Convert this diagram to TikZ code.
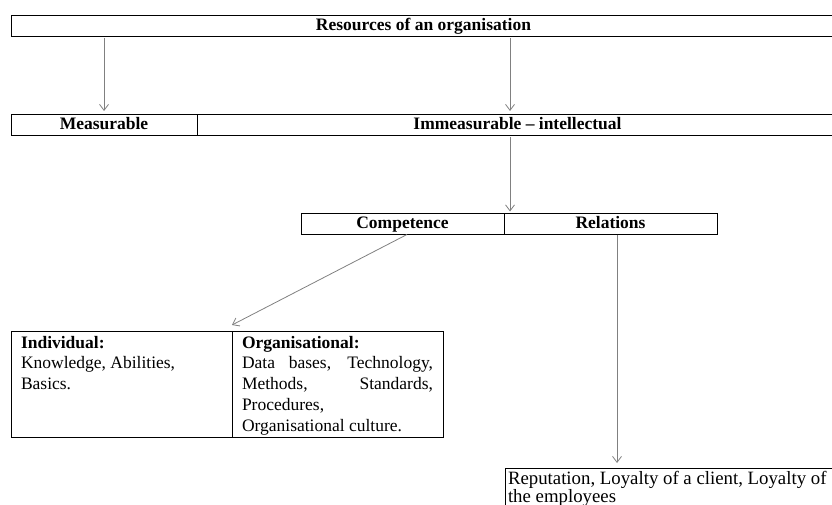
\documentclass[tikz,border=0pt]{standalone}
\usepackage{fontspec}
\setmainfont{Liberation Serif}
\usetikzlibrary{positioning,arrows.meta}
\tikzstyle{head} = [rectangle, draw=black, line width=0.9pt, minimum height=21pt, inner sep=0pt, outer sep=0pt, text centered, font=\bfseries\fontsize{17.5}{20.5}\selectfont, text height=13pt, text depth=3pt]
\tikzstyle{cell} = [rectangle, draw=black, line width=0.9pt, inner xsep=10pt, inner ysep=5pt, outer sep=0pt, anchor=north west, font=\fontsize{17.5}{20.8}\selectfont]
\tikzstyle{arrow} = [draw=black!50, line width=0.8pt, -{Straight Barb[length=6pt,width=9pt]}]
\def\cellh{96pt}

\begin{document}
\begin{tikzpicture}[x=1pt,y=-1pt]
\clip (0,0) rectangle (832,505);

\node (res) [head, minimum width=825pt] at (423.5,25.5) {Resources of an organisation};

\node (meas) [head, minimum width=186pt] at (104,124.5) {Measurable};
\node (immeas) [head, minimum width=641pt, right=0pt of meas] {Immeasurable -- intellectual};

\node (comp) [head, minimum width=203pt] at (402.5,224) {Competence};
\node (rel) [head, minimum width=213pt, right=0pt of comp] {Relations};

\node (indiv) [cell] at (11,331) {\begin{minipage}[t][\cellh][t]{201pt}
\textbf{Individual:}\\
Knowledge, Abilities,\\
Basics.
\end{minipage}};
\node (org) [cell] at (232,331) {\begin{minipage}[t][\cellh][t]{191pt}
\textbf{Organisational:}\\
\makebox[\linewidth][s]{Data bases, Technology,}\\
\makebox[\linewidth][s]{Methods, Standards,}\\
Procedures,\\
Organisational culture.
\end{minipage}};

\node (rep) [cell, inner xsep=3pt, inner ysep=3pt, font=\fontsize{18.8}{15}\selectfont] at (505,468) {\begin{minipage}[t][60pt][t]{335pt}
Reputation, Loyalty of a client, Loyalty of\\
the employees
\end{minipage}};

\draw [arrow, shorten <=2pt, shorten >=3pt] (res.south -| meas.north) -- (meas.north);
\draw [arrow, shorten <=2pt, shorten >=3pt] (res.south -| 510,0) -- (immeas.north -| 510,0);
\draw [arrow, shorten <=2pt, shorten >=2pt] (immeas.south -| 510,0) -- (comp.north -| 510,0);
\draw [arrow] ([xshift=4.5pt]comp.south) -- ([yshift=6pt]org.north west);
\draw [arrow, shorten >=5pt] (rel.south -| 617,0) -- (rep.north -| 617,0);

\end{tikzpicture}
\end{document}
